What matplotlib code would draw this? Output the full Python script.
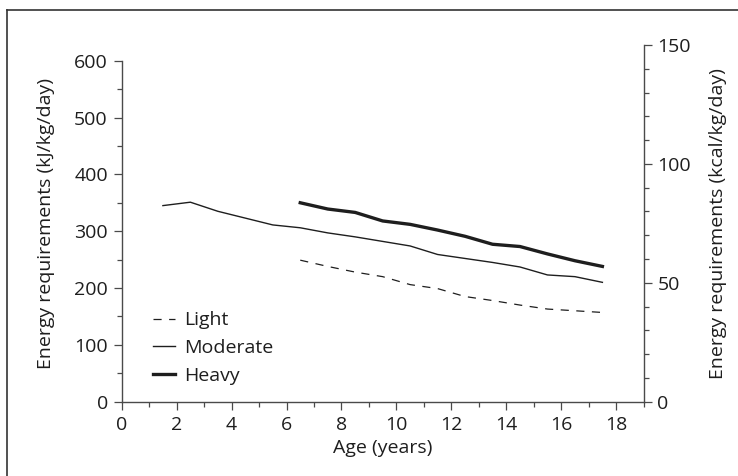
import matplotlib
matplotlib.use("Agg")
import matplotlib.pyplot as plt
from matplotlib.lines import Line2D
from matplotlib.ticker import MultipleLocator

plt.rcParams['font.family'] = ['Open Sans', 'DejaVu Sans']

# Ages (years) and energy requirements (kJ/kg/day)
age_moderate = [1.5, 2.5, 3.5, 4.5, 5.5, 6.5, 7.5, 8.5, 9.5, 10.5, 11.5, 12.5, 13.5, 14.5, 15.5, 16.5, 17.5]
moderate = [345, 351, 335, 323, 311, 306, 297, 290, 282, 274, 259, 252, 245, 237, 223, 220, 210]

age_active = [6.5, 7.5, 8.5, 9.5, 10.5, 11.5, 12.5, 13.5, 14.5, 15.5, 16.5, 17.5]
light = [249, 238, 228, 220, 206, 199, 185, 178, 170, 163, 160, 157]
heavy = [350, 339, 333, 318, 312, 302, 291, 277, 273, 260, 248, 238]

x_ticks = [0, 2, 4, 6, 8, 10, 12, 14, 16, 18]
kj_ticks = [0, 100, 200, 300, 400, 500, 600]
kcal_ticks = [0, 50, 100, 150]
KJ_PER_KCAL = 4.184

ink = '#1e1e1e'
axis_col = '#4a4a4a'
fs = 14

fig = plt.figure(figsize=(7.38, 4.76), dpi=100)
# frame lines (top and left only)
fig.lines.append(Line2D([7 / 738, 1.0], [1 - 10 / 476, 1 - 10 / 476], transform=fig.transFigure,
                        color='#333333', lw=1.2))
fig.lines.append(Line2D([7 / 738, 7 / 738], [0.0, 1 - 10 / 476], transform=fig.transFigure,
                        color='#333333', lw=1.2))

ax = fig.add_axes([0.1649, 0.1561, 0.7072, 0.7494])
ax.plot(age_active, light, color=ink, lw=0.9, ls=(0, (6.5, 6)), label='Light')
ax.plot(age_moderate, moderate, color=ink, lw=1.0, label='Moderate')
ax.plot(age_active, heavy, color=ink, lw=2.4, label='Heavy')

ax.set_xlim(0, 19)
ax.set_ylim(0, 150 * KJ_PER_KCAL)
ax.set_xticks(x_ticks)
ax.set_yticks(kj_ticks)
ax.xaxis.set_minor_locator(MultipleLocator(1))
ax.yaxis.set_minor_locator(MultipleLocator(50))
ax.spines['left'].set_bounds(0, 600)
ax.spines['top'].set_visible(False)
ax.spines['right'].set_visible(False)
for s in ['left', 'bottom']:
    ax.spines[s].set_color(axis_col)
    ax.spines[s].set_linewidth(1.0)
ax.tick_params(which='major', length=6, width=0.9, color=axis_col, labelsize=fs, labelcolor=ink,
               direction='out', pad=4)
ax.tick_params(which='minor', length=3.6, width=0.9, color=axis_col, direction='out')
ax.set_xlabel('Age (years)', fontsize=fs, color=ink, labelpad=4)
ax.set_ylabel('Energy requirements (kJ/kg/day)', fontsize=fs, color=ink, labelpad=14)

ax2 = ax.twinx()
ax2.set_ylim(0, 150)
ax2.set_yticks(kcal_ticks)
ax2.yaxis.set_minor_locator(MultipleLocator(10))
for s in ['left', 'top', 'bottom']:
    ax2.spines[s].set_visible(False)
ax2.spines['right'].set_color(axis_col)
ax2.spines['right'].set_linewidth(1.0)
ax2.tick_params(which='major', length=6, width=0.9, color=axis_col, labelsize=fs, labelcolor=ink,
                direction='out', pad=4)
ax2.tick_params(which='minor', length=3.6, width=0.9, color=axis_col, direction='out')
ax2.set_ylabel('Energy requirements (kcal/kg/day)', fontsize=fs, color=ink, labelpad=13)

leg = ax.legend(loc='upper left', bbox_to_anchor=(0.06, 0.253), frameon=False,
                borderaxespad=0, borderpad=0,
                fontsize=fs, handlelength=1.15, handletextpad=0.45, labelspacing=0.5)
for t in leg.get_texts():
    t.set_color(ink)

fig.savefig('out.png', dpi=100)
